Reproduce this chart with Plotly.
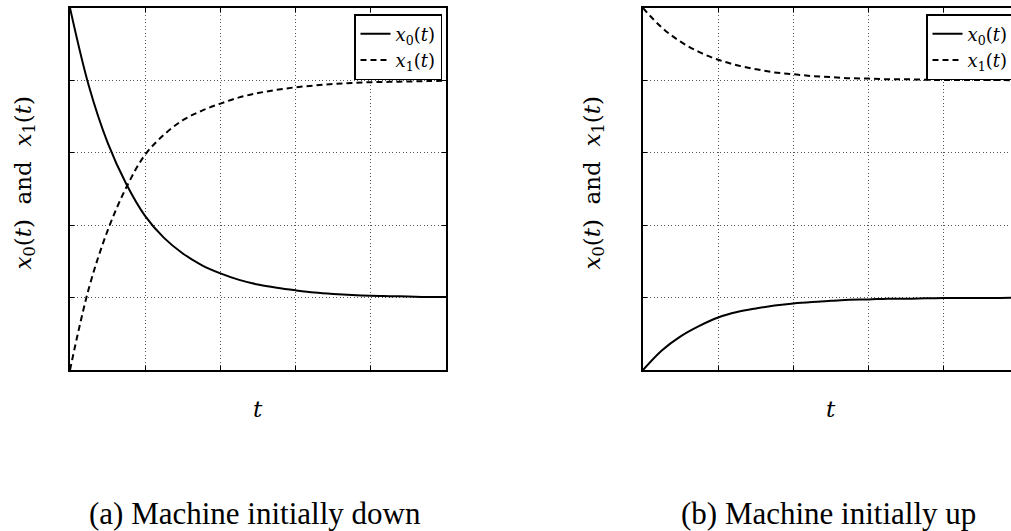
import plotly.graph_objects as go

# time samples
t = [0.0, 0.25, 0.5, 0.75, 1.0, 1.25, 1.5, 1.75, 2.0, 2.25, 2.5, 2.75,
     3.0, 3.25, 3.5, 3.75, 4.0, 4.25, 4.5, 4.75, 5.0]

# (a) machine initially down
a_x0 = [1.000, 0.785, 0.628, 0.513, 0.425, 0.365, 0.322, 0.290, 0.267, 0.249,
        0.236, 0.227, 0.220, 0.214, 0.210, 0.207, 0.205, 0.204, 0.203, 0.202, 0.202]
a_x1 = [0.000, 0.225, 0.385, 0.505, 0.595, 0.650, 0.690, 0.716, 0.736, 0.753,
        0.765, 0.774, 0.781, 0.786, 0.790, 0.793, 0.795, 0.796, 0.797, 0.798, 0.799]

# (b) machine initially up
b_x0 = [0.000, 0.054, 0.093, 0.122, 0.145, 0.160, 0.170, 0.178, 0.184, 0.188,
        0.191, 0.194, 0.195, 0.197, 0.197, 0.198, 0.199, 0.199, 0.199, 0.199, 0.200]
b_x1 = [1.000, 0.946, 0.907, 0.878, 0.857, 0.842, 0.831, 0.822, 0.817, 0.812,
        0.809, 0.806, 0.805, 0.803, 0.803, 0.802, 0.801, 0.801, 0.801, 0.801, 0.800]

x_ticks = [0, 1, 2, 3, 4, 5]
y_ticks = [0, 0.2, 0.4, 0.6, 0.8, 1.0]

captions = ["(a) Machine initially down", "(b) Machine initially up"]
ylab = "<i>x</i><sub>0</sub>(<i>t</i>)&nbsp;&nbsp;and&nbsp;&nbsp;<i>x</i><sub>1</sub>(<i>t</i>)"
xlab = "<i>t</i>"
name0 = "<i>x</i><sub>0</sub>(<i>t</i>)"
name1 = "<i>x</i><sub>1</sub>(<i>t</i>)"

W, H = 1011, 531
FONT_MATH = "DejaVu Serif"
FONT_TXT = "Liberation Serif"

fig = go.Figure()

solid = dict(color="black", width=2)
dashed = dict(color="black", width=2, dash="6px,4px")

fig.add_trace(go.Scatter(x=t, y=a_x0, mode="lines", line=dict(**solid, shape="spline"),
                         name=name0, xaxis="x", yaxis="y", legend="legend"))
fig.add_trace(go.Scatter(x=t, y=a_x1, mode="lines", line=dict(**dashed, shape="spline"),
                         name=name1, xaxis="x", yaxis="y", legend="legend"))
fig.add_trace(go.Scatter(x=t, y=b_x0, mode="lines", line=dict(**solid, shape="spline"),
                         name=name0, xaxis="x2", yaxis="y2", legend="legend2"))
fig.add_trace(go.Scatter(x=t, y=b_x1, mode="lines", line=dict(**dashed, shape="spline"),
                         name=name1, xaxis="x2", yaxis="y2", legend="legend2"))

ydom = [1 - 370 / H, 1 - 8 / H]
common = dict(showticklabels=False, ticks="inside", ticklen=4, tickcolor="black",
              showline=True, linecolor="black", linewidth=1.5,
              showgrid=True, gridcolor="#555", gridwidth=1, griddash="1px,2.5px",
              zeroline=False, fixedrange=True)

legend_style = dict(bgcolor="white", bordercolor="black", borderwidth=1.5,
                    font=dict(family=FONT_MATH, size=18), itemwidth=30,
                    tracegroupgap=0)

fig.update_layout(
    width=W, height=H,
    margin=dict(l=0, r=0, t=0, b=0, autoexpand=False),
    paper_bgcolor="white", plot_bgcolor="white",
    font=dict(family=FONT_TXT, color="black"),
    xaxis=dict(domain=[70 / W, 446 / W], range=[0, 5], tickvals=x_ticks,
               mirror="allticks", anchor="y", **common),
    yaxis=dict(domain=ydom, range=[0, 1], tickvals=y_ticks,
               mirror="allticks", anchor="x", **common),
    xaxis2=dict(domain=[643 / W, 1.0], range=[0, 5 * 368 / 376], tickvals=x_ticks,
                mirror="allticks", anchor="y2", **common),
    yaxis2=dict(domain=ydom, range=[0, 1], tickvals=y_ticks,
                mirror=False, anchor="x2", **common),
    legend=dict(x=442 / W, y=1 - 14 / H, xanchor="right", yanchor="top", **legend_style),
    legend2=dict(x=926 / W, y=1 - 14 / H, xanchor="left", yanchor="top", **legend_style),
    showlegend=True,
)

ann = []
for cx in [25, 594]:
    ann.append(dict(text=ylab, x=cx / W, y=1 - 183.5 / H, xref="paper", yref="paper",
                    textangle=-90, showarrow=False, xanchor="center", yanchor="middle",
                    font=dict(family=FONT_MATH, size=23)))
for cx in [258, 831]:
    ann.append(dict(text=xlab, x=cx / W, y=1 - 409 / H, xref="paper", yref="paper",
                    showarrow=False, xanchor="center", yanchor="middle",
                    font=dict(family=FONT_MATH, size=23)))
for cx, cap in zip([255, 828], captions):
    ann.append(dict(text=cap, x=cx / W, y=1 - 513 / H, xref="paper", yref="paper",
                    showarrow=False, xanchor="center", yanchor="middle",
                    font=dict(family=FONT_TXT, size=31)))
fig.update_layout(annotations=ann)

fig.write_html("out.html", config={"displayModeBar": False},
               post_script="document.body.style.margin='0';document.body.style.overflow='hidden';")
